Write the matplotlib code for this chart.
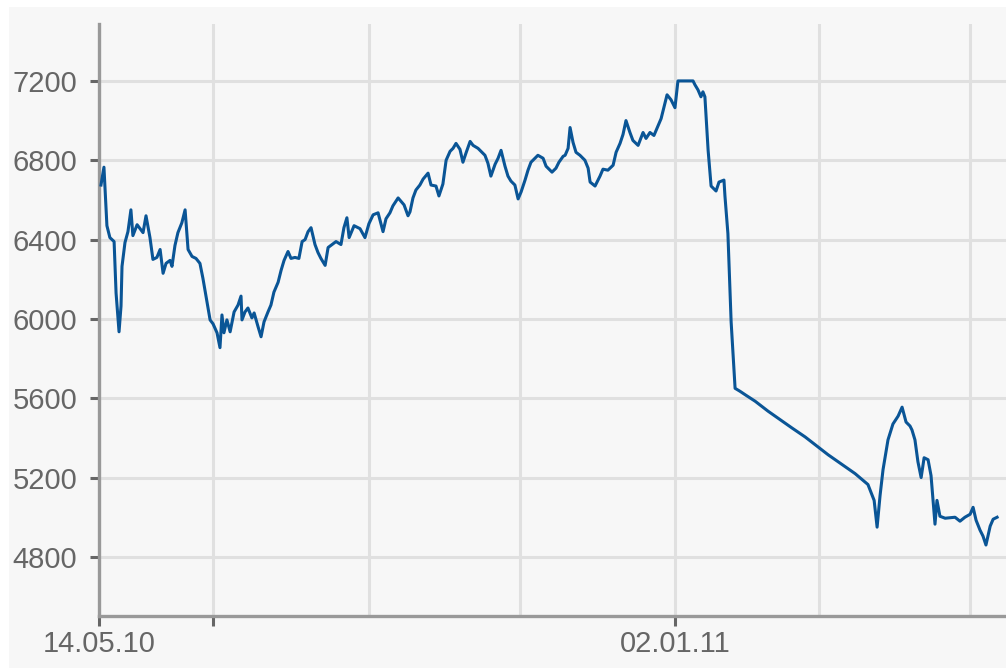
# plot.py
#
# Price chart, 14.05.10 to mid-May 2011, on a light gray panel.

import matplotlib
matplotlib.use("Agg")
import matplotlib.pyplot as plt
from matplotlib.patches import Rectangle
import pandas as pd


START_DATE = "2010-05-14"

# Days since START_DATE
days = [
    0.8, 2.0, 3.2, 4.4, 6.1, 6.9, 8.1, 8.9, 9.3, 10.5,
    11.7, 12.9, 13.7, 15.4, 17.8, 19.0, 20.6, 21.8, 23.4, 24.7,
    25.9, 27.1, 28.7, 29.5, 30.7, 31.9, 33.5, 34.8, 36.0, 37.6,
    39.2, 40.8, 42.0, 43.7, 44.9, 46.1, 47.7, 48.9, 49.7, 50.5,
    51.7, 53.0, 54.6, 56.2, 57.4, 57.8, 59.0, 60.2, 61.8, 62.7,
    64.3, 65.5, 66.7, 68.3, 69.5, 70.7, 72.4, 73.6, 74.8, 76.4,
    77.6, 79.2, 80.8, 82.1, 83.3, 84.5, 85.7, 87.3, 88.5, 89.7,
    91.4, 92.6, 94.2, 95.8, 97.8, 99.0, 100.2, 101.1, 103.1, 105.5,
    107.5, 109.1, 110.8, 112.8, 114.8, 116.0, 117.6, 118.8, 120.9, 123.3,
    124.9, 125.7, 126.9, 128.1, 129.7, 131.0, 133.0, 134.2, 136.2, 137.4,
    139.0, 140.3, 141.9, 143.1, 144.3, 145.9, 147.1, 148.3, 150.0, 151.2,
    153.2, 154.8, 156.0, 157.2, 158.4, 160.1, 161.3, 162.5, 164.1, 165.3,
    166.5, 168.1, 169.4, 170.6, 172.2, 173.4, 174.6, 177.4, 179.5, 180.7,
    183.1, 184.7, 185.9, 187.6, 188.4, 189.6, 190.4, 191.6, 192.8, 194.4,
    196.4, 197.7, 198.5, 200.5, 202.5, 203.7, 205.7, 207.8, 209.0, 210.6,
    211.8, 213.0, 214.6, 215.8, 217.9, 219.9, 221.1, 222.7, 224.3, 225.5,
    227.2, 228.4, 229.6, 231.2, 232.8, 234.0, 236.0, 240.1, 240.9, 242.1,
    243.3, 244.1, 244.9, 246.2, 247.4, 249.4, 250.6, 252.6, 253.0, 254.2,
    255.5, 257.1, 259.1, 261.5, 265.2, 270.4, 276.1, 280.1, 285.4, 290.6,
    294.7, 299.9, 305.6, 310.8, 313.3, 314.5, 315.7, 316.9, 318.9, 320.9,
    323.0, 324.6, 326.2, 327.8, 328.6, 329.8, 331.0, 332.3, 333.5, 335.1,
    336.3, 337.9, 338.7, 339.9, 342.0, 346.0, 348.0, 350.0, 352.1, 353.3,
    354.5, 356.1, 357.3, 358.5, 360.2, 361.4, 363.0,
]

prices = [
    6675, 6765, 6470, 6410, 6390, 6130, 5935, 6065, 6265, 6385,
    6440, 6550, 6420, 6475, 6435, 6520, 6410, 6300, 6310, 6350,
    6230, 6280, 6295, 6265, 6370, 6435, 6485, 6550, 6350, 6315,
    6305, 6280, 6205, 6080, 5995, 5975, 5930, 5855, 6020, 5930,
    5995, 5935, 6035, 6070, 6115, 5995, 6035, 6055, 6005, 6030,
    5960, 5910, 5985, 6035, 6070, 6135, 6185, 6245, 6295, 6340,
    6305, 6310, 6305, 6390, 6400, 6440, 6460, 6375, 6335, 6305,
    6270, 6360, 6375, 6390, 6375, 6460, 6510, 6410, 6470, 6455,
    6410, 6480, 6525, 6535, 6440, 6505, 6535, 6570, 6610, 6575,
    6520, 6540, 6610, 6650, 6675, 6705, 6735, 6675, 6670, 6620,
    6680, 6800, 6845, 6860, 6885, 6855, 6790, 6835, 6895, 6875,
    6860, 6840, 6825, 6785, 6720, 6780, 6810, 6850, 6770, 6720,
    6695, 6675, 6605, 6640, 6700, 6750, 6790, 6825, 6810, 6770,
    6740, 6760, 6790, 6820, 6825, 6860, 6965, 6890, 6840, 6825,
    6800, 6760, 6690, 6670, 6720, 6755, 6750, 6775, 6840, 6885,
    6930, 7000, 6940, 6900, 6875, 6940, 6910, 6940, 6925, 6960,
    7010, 7070, 7130, 7105, 7065, 7200, 7200, 7200, 7180, 7155,
    7120, 7145, 7120, 6850, 6670, 6645, 6690, 6700, 6620, 6430,
    5985, 5650, 5635, 5615, 5585, 5535, 5485, 5450, 5405, 5355,
    5315, 5270, 5220, 5165, 5085, 4950, 5110, 5240, 5390, 5470,
    5510, 5555, 5480, 5460, 5440, 5390, 5280, 5200, 5300, 5290,
    5210, 4965, 5085, 5005, 4995, 5000, 4980, 5000, 5015, 5050,
    4985, 4935, 4905, 4860, 4955, 4990, 5000,
]

y_ticks = [4800, 5200, 5600, 6000, 6400, 6800, 7200]

# Labelled / tick dates and the extra vertical grid lines
tick_dates = ["2010-05-14", "2010-06-29", "2011-01-02"]
tick_labels = ["14.05.10", "", "02.01.11"]
grid_dates = ["2010-08-31", "2010-10-31", "2011-03-01", "2011-05-01"]

PANEL = "#f7f7f7"
GRID = "#e0e0e0"
AXIS = "#999999"
TEXT = "#666666"
LINE = "#0a5596"


def make_chart(out_path="out.png"):
    start = pd.Timestamp(START_DATE)
    dates = start + pd.to_timedelta(days, unit="D")

    plt.rcParams["font.family"] = ["Liberation Sans", "DejaVu Sans"]

    fig = plt.figure(figsize=(10.06, 6.68), dpi=100, facecolor="white")
    # gray panel behind everything, leaving a thin white strip top / left
    panel = Rectangle((9 / 1006, 0), 1.0, (668 - 7) / 668,
                      transform=fig.transFigure, facecolor=PANEL,
                      edgecolor="none", zorder=-10)
    fig.patches.append(panel)

    ax = fig.add_axes([99 / 1006, 52 / 668, 907 / 1006, 592 / 668])
    ax.set_facecolor(PANEL)

    ax.plot(dates, prices, color=LINE, lw=2.2, zorder=3)

    ax.set_xlim(start, start + pd.Timedelta(days=366.6))
    ax.set_ylim(4502, 7487)

    ax.set_yticks(y_ticks)
    ax.set_yticklabels([str(v) for v in y_ticks])
    ax.set_xticks(pd.to_datetime(tick_dates))
    ax.set_xticklabels(tick_labels)
    ax.set_xticks(pd.to_datetime(grid_dates), minor=True)

    ax.grid(True, which="both", color=GRID, lw=2.2, zorder=1)
    ax.set_axisbelow(True)

    for side in ["top", "right"]:
        ax.spines[side].set_visible(False)
    for side in ["left", "bottom"]:
        ax.spines[side].set_color(AXIS)
        ax.spines[side].set_linewidth(2.4)

    ax.tick_params(axis="y", length=6.5, width=2.2, color=TEXT,
                   labelcolor=TEXT, labelsize=21, pad=9)
    ax.tick_params(axis="x", which="major", length=7, width=2.2, color=TEXT,
                   labelcolor=TEXT, labelsize=21, pad=3)
    ax.tick_params(axis="x", which="minor", length=0)

    fig.savefig(out_path, dpi=100, facecolor=fig.get_facecolor())
    plt.close(fig)
    print(f"[OK] saved {out_path}")


def main():
    make_chart("out.png")


if __name__ == "__main__":
    main()
